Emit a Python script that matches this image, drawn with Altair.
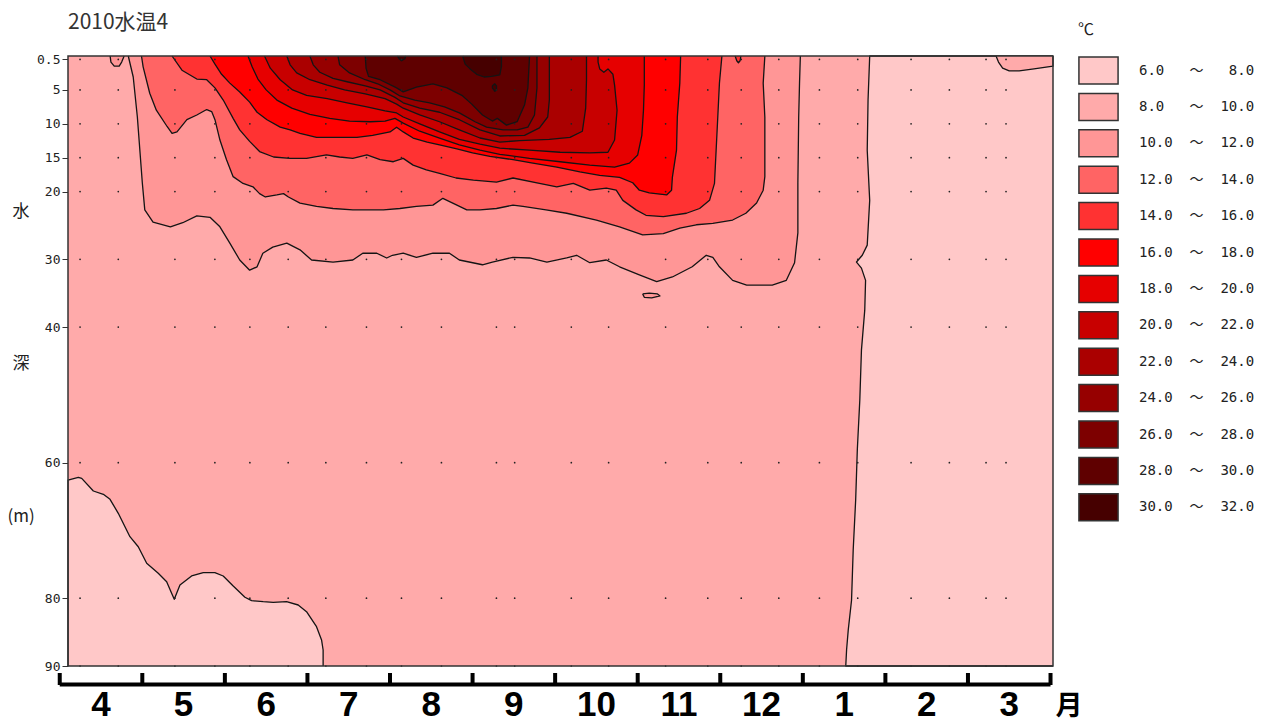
import altair as alt
import pandas as pd

# ---------------- texts ----------------
TITLE = "2010水温4"
MONTH_LABELS = ["4", "5", "6", "7", "8", "9", "10", "11", "12", "1", "2", "3"]
MONTH_UNIT = "月"
DEPTH_TICKS = [0.5, 5, 10, 15, 20, 30, 40, 60, 80, 90]
DEPTH_TITLE = ["水", "深", "(m)"]
LEGEND_TITLE = "℃"

# ---------------- temperature classes ----------------
BAND_LOW = [6.0, 8.0, 10.0, 12.0, 14.0, 16.0, 18.0, 20.0, 22.0, 24.0, 26.0, 28.0, 30.0]
BAND_HIGH = [8.0, 10.0, 12.0, 14.0, 16.0, 18.0, 20.0, 22.0, 24.0, 26.0, 28.0, 30.0, 32.0]
BAND_COLORS = ["#FFC8C8", "#FFAAAA", "#FF9696", "#FF6464", "#FF3232", "#FF0000", "#E60000",
               "#C80000", "#AA0000", "#960000", "#7D0000", "#5F0000", "#460000"]

# observation dates (months after 1 April) and depths of the sample grid
OBS_MONTHS = [0.246, 0.709, 1.395, 1.879, 2.303, 2.767, 3.223, 3.715, 4.139, 4.623, 5.289, 5.510,
              6.196, 6.648, 7.338, 7.849, 8.254, 8.709, 9.201, 9.665, 10.311, 10.775, 11.219, 11.461]

X_DOMAIN = [0.1, 12.03]   # months after 1 April
Y_DOMAIN = [0, 90]        # depth (m)

# ---------------- isotherms (month, depth) ----------------
ISO8L_M = [0.10, 0.225, 0.266, 0.407, 0.528, 0.609, 0.709, 0.850, 0.951, 1.053, 1.193, 1.295, 1.355, 1.387,
           1.416, 1.456, 1.597, 1.738, 1.879, 1.980, 2.101, 2.243, 2.324, 2.464, 2.585, 2.747, 2.888, 2.989,
           3.110, 3.171, 3.190, 3.190]
ISO8L_D = [62.56, 62.16, 62.31, 64.18, 64.67, 65.41, 67.47, 70.92, 72.40, 74.85, 76.32, 77.56, 79.27, 80.16,
           79.27, 78.05, 76.72, 76.23, 76.23, 76.72, 78.20, 79.86, 80.36, 80.51, 80.60, 80.51, 81.00, 81.99,
           84.20, 86.16, 87.64, 90.0]

ISO8R_M = [9.81, 9.79, 9.78, 9.81, 9.78, 9.72, 9.65, 9.71, 9.76, 9.75, 9.71, 9.69, 9.66, 9.64, 9.61, 9.59,
           9.55, 9.53, 9.52]
ISO8R_D = [0, 6.5, 13.9, 21.3, 27.9, 29.4, 30.4, 31.3, 33.1, 37.5, 43.4, 50.8, 58.1, 65.5, 72.9, 80.3,
           84.7, 87.6, 90]

ISO8MAR_M = [11.34, 11.37, 11.42, 11.50, 11.62, 11.80, 12.03, 12.03]
ISO8MAR_D = [0, 0.9, 1.8, 2.2, 2.2, 1.9, 1.5, 0]

ISO10_M = [0.83, 0.89, 0.94, 1.00, 1.03, 1.13, 1.34, 1.49, 1.66, 1.82, 1.94, 2.06, 2.18, 2.30, 2.39, 2.46,
           2.58, 2.75, 2.91, 3.05, 3.31, 3.55, 3.67, 3.84, 3.96, 4.03, 4.16, 4.32, 4.52, 4.72, 4.84, 5.12,
           5.24, 5.49, 5.69, 5.90, 6.14, 6.26, 6.42, 6.62, 6.78, 7.02, 7.23, 7.42, 7.66, 7.83, 7.91, 7.99,
           8.15, 8.32, 8.63, 8.80, 8.90, 8.94, 8.94, 8.95, 8.96, 8.97]
ISO10_D = [0, 3.1, 9.0, 18.7, 22.7, 24.5, 25.2, 24.6, 23.6, 23.8, 25.2, 27.6, 30.1, 31.6, 31.1, 29.1,
           28.2, 27.6, 28.6, 30.1, 30.4, 30.1, 29.1, 29.1, 29.8, 29.4, 29.1, 29.7, 29.1, 29.1, 30.1, 30.8,
           30.4, 29.7, 29.8, 30.4, 29.8, 29.4, 30.5, 30.1, 31.1, 32.3, 33.3, 32.6, 31.1, 29.4, 29.7, 31.1,
           33.1, 33.8, 33.8, 33.1, 30.5, 26.1, 18.7, 9.0, 4.0, 0]
ISO10A_M = [0.61, 0.62, 0.66, 0.72, 0.75, 0.78]
ISO10A_D = [0, 0.9, 1.5, 1.5, 0.9, 0]
ISO10B_M = [7.06, 7.14, 7.24, 7.27, 7.17, 7.08, 7.06]
ISO10B_D = [35.1, 35.0, 35.1, 35.4, 35.7, 35.6, 35.1]

ISO12_M = [0.99, 1.01, 1.09, 1.17, 1.30, 1.36, 1.42, 1.54, 1.66, 1.78, 1.84, 1.88, 1.94, 2.02, 2.10, 2.22,
           2.34, 2.42, 2.49, 2.63, 2.71, 2.77, 2.91, 3.11, 3.31, 3.55, 3.92, 4.12, 4.32, 4.52, 4.64, 4.76,
           4.93, 5.09, 5.29, 5.49, 5.61, 5.89, 6.14, 6.50, 6.78, 7.06, 7.31, 7.51, 7.71, 7.91, 8.15, 8.31,
           8.44, 8.52, 8.54, 8.54, 8.52, 8.54]
ISO12_D = [0, 1.6, 5.5, 8.0, 10.4, 11.4, 11.2, 9.4, 8.7, 7.9, 8.2, 9.4, 12.4, 15.3, 17.8, 18.8,
           19.3, 20.3, 20.8, 20.5, 20.3, 20.8, 21.7, 22.2, 22.5, 22.7, 22.7, 22.5, 22.2, 22.0, 21.0, 21.7,
           22.7, 22.7, 22.5, 22.0, 22.2, 22.7, 23.2, 24.2, 25.2, 26.4, 26.2, 25.4, 24.9, 24.7, 24.2, 23.2,
           21.7, 19.8, 17.8, 9.0, 4.0, 0]

ISO14_M = [1.36, 1.48, 1.66, 1.78, 1.88, 1.98, 2.10, 2.18, 2.30, 2.42, 2.59, 2.79, 2.99, 3.23, 3.39, 3.55,
           3.72, 3.88, 4.04, 4.16, 4.28, 4.44, 4.60, 4.80, 5.01, 5.29, 5.49, 5.81, 6.02, 6.22, 6.42, 6.62,
           6.74, 6.82, 6.98, 7.10, 7.31, 7.59, 7.75, 7.87, 7.93, 7.95, 7.97, 7.99, 8.02]
ISO14_D = [0, 2.1, 3.4, 3.5, 4.7, 6.5, 9.2, 10.9, 12.6, 14.1, 14.9, 15.1, 15.1, 14.6, 14.9, 15.1,
           14.6, 15.3, 15.6, 15.1, 16.1, 16.8, 17.3, 18.0, 18.3, 18.6, 18.0, 18.8, 19.3, 18.8, 19.8, 19.5,
           19.8, 21.3, 22.7, 23.5, 23.7, 23.2, 22.5, 21.3, 18.8, 13.9, 9.0, 4.0, 0]
ISO14A_M = [8.18, 8.20, 8.22, 8.24, 8.25]
ISO14A_D = [0, 0.7, 1.0, 0.7, 0]

ISO16_M = [1.82, 1.88, 1.96, 2.06, 2.18, 2.30, 2.39, 2.51, 2.67, 2.79, 2.91, 3.11, 3.39, 3.60, 3.79, 4.00,
           4.08, 4.16, 4.28, 4.45, 4.60, 4.81, 5.00, 5.21, 5.49, 5.73, 6.02, 6.30, 6.54, 6.78, 6.94, 7.02,
           7.14, 7.35, 7.41, 7.42, 7.47, 7.48, 7.51, 7.52]
ISO16_D = [0, 1.2, 2.7, 4.0, 5.3, 6.8, 8.3, 9.4, 10.5, 10.9, 11.4, 12.0, 12.0, 12.0, 11.7, 11.2,
           10.5, 11.2, 12.1, 12.7, 13.1, 13.7, 14.3, 14.8, 15.3, 15.8, 16.4, 17.1, 17.6, 17.9, 18.7, 19.8,
           20.2, 20.5, 19.8, 17.9, 13.9, 9.0, 4.0, 0]

ISO18_M = [2.28, 2.33, 2.40, 2.50, 2.63, 2.81, 3.03, 3.27, 3.51, 3.76, 3.94, 4.06, 4.16, 4.36, 4.60, 4.84,
           5.09, 5.33, 5.69, 6.06, 6.42, 6.72, 6.90, 7.00, 7.05, 7.07, 7.08, 7.08]
ISO18_D = [0, 1.6, 3.4, 5.0, 6.5, 7.7, 8.6, 9.2, 9.6, 9.7, 9.6, 9.2, 9.9, 11.1, 12.1, 13.1,
           13.9, 14.5, 15.1, 15.6, 16.1, 16.4, 15.8, 14.6, 11.7, 8.0, 4.3, 0]

ISO20_M = [2.48, 2.55, 2.67, 2.82, 2.99, 3.24, 3.48, 3.72, 3.94, 4.08, 4.16, 4.36, 4.60, 4.84, 5.09, 5.33,
           5.69, 6.06, 6.42, 6.64, 6.72, 6.75, 6.72, 6.70, 6.64, 6.59, 6.54, 6.52, 6.52]
ISO20_D = [0, 1.8, 3.5, 5.0, 5.8, 6.3, 6.9, 7.5, 8.1, 8.4, 9.0, 10.0, 11.2, 12.3, 13.0, 13.6,
           13.9, 14.2, 14.3, 14.2, 12.4, 8.0, 4.3, 2.7, 1.9, 2.4, 1.9, 0.9, 0]

ISO22_M = [2.75, 2.79, 2.87, 3.03, 3.24, 3.45, 3.70, 3.94, 4.08, 4.16, 4.36, 4.60, 4.84, 5.09, 5.33, 5.57,
           5.93, 6.18, 6.33, 6.37, 6.38, 6.38]
ISO22_D = [0, 1.3, 2.5, 3.5, 4.3, 5.0, 5.6, 6.3, 7.1, 7.7, 8.7, 9.7, 10.9, 12.1, 12.7, 12.5,
           12.3, 12.0, 11.1, 7.7, 3.5, 0]

ISO24_M = [3.03, 3.07, 3.15, 3.31, 3.48, 3.70, 3.88, 4.06, 4.16, 4.36, 4.60, 4.84, 5.09, 5.33, 5.63, 5.81,
           5.91, 5.93, 5.93]
ISO24_D = [0, 1.3, 2.4, 3.3, 3.8, 4.4, 5.0, 6.1, 6.9, 7.7, 8.3, 9.4, 10.9, 11.8, 11.7, 10.6,
           9.0, 6.5, 0]

ISO26_M = [3.37, 3.39, 3.51, 3.70, 3.85, 4.00, 4.12, 4.30, 4.48, 4.66, 4.84, 5.03, 5.17, 5.37, 5.54, 5.67,
           5.75, 5.78, 5.78]
ISO26_D = [0, 1.3, 2.5, 3.5, 4.1, 5.0, 5.9, 6.5, 6.9, 7.5, 8.4, 9.7, 10.5, 10.9, 10.9, 10.5,
           8.7, 4.7, 0]

ISO28_M = [3.70, 3.71, 3.74, 3.88, 4.08, 4.16, 4.32, 4.52, 4.69, 4.87, 4.99, 5.12, 5.24, 5.30, 5.41, 5.54,
           5.63, 5.67, 5.69]
ISO28_D = [0, 1.8, 3.0, 3.5, 4.7, 5.3, 4.6, 4.1, 4.7, 5.8, 7.1, 8.7, 9.6, 9.2, 10.2, 9.7,
           7.2, 4.7, 0]

ISO30_M = [4.88, 4.91, 4.97, 5.05, 5.14, 5.23, 5.33, 5.35, 5.35]
ISO30_D = [0, 1.2, 1.9, 2.7, 3.1, 3.0, 2.8, 1.5, 0]
ISO30A_M = [4.09, 4.11, 4.14, 4.18, 4.19]
ISO30A_D = [0, 0.4, 0.7, 0.4, 0]
ISO30B_M = [5.24, 5.27, 5.29, 5.29, 5.27, 5.24, 5.24]
ISO30B_D = [4.4, 4.1, 4.4, 5.0, 5.2, 4.7, 4.4]

# regions: (name, class index, months, depths) -- drawn in this order
XL, XR = X_DOMAIN
YT, YB = Y_DOMAIN
REGIONS = [
    ("cold_left", 0, [XL] + ISO8L_M, [YB] + ISO8L_D),
    ("cold_right", 0, [XR] + ISO8R_M + [XR], [YT] + ISO8R_D + [YB]),
    ("march", 1, ISO8MAR_M, ISO8MAR_D),
    ("iso10", 2, ISO10_M, ISO10_D),
    ("iso10a", 2, ISO10A_M, ISO10A_D),
    ("iso10b", 2, ISO10B_M, ISO10B_D),
    ("iso12", 3, ISO12_M, ISO12_D),
    ("iso14", 4, ISO14_M, ISO14_D),
    ("iso14a", 4, ISO14A_M, ISO14A_D),
    ("iso16", 5, ISO16_M, ISO16_D),
    ("iso18", 6, ISO18_M, ISO18_D),
    ("iso20", 7, ISO20_M, ISO20_D),
    ("iso22", 8, ISO22_M, ISO22_D),
    ("iso24", 9, ISO24_M, ISO24_D),
    ("iso26", 10, ISO26_M, ISO26_D),
    ("iso28", 11, ISO28_M, ISO28_D),
    ("iso30", 12, ISO30_M, ISO30_D),
    ("iso30a", 12, ISO30A_M, ISO30A_D),
    ("iso30b", 12, ISO30B_M, ISO30B_D),
]

rows = []
for name, band, ms, ds in REGIONS:
    assert len(ms) == len(ds), name
    for i, (m, d) in enumerate(zip(ms, ds)):
        rows.append({"poly": name, "i": i, "month": m, "depth": d})
region_df = pd.DataFrame(rows)

dots_df = pd.DataFrame([{"month": m, "depth": d} for m in OBS_MONTHS for d in DEPTH_TICKS])

NB = "\u00a0"
LEGEND_LABELS = [f"{lo:<4.1f}  ～  {hi:>4.1f}".replace(" ", NB) for lo, hi in zip(BAND_LOW, BAND_HIGH)]

# ---------------- scales / encodings ----------------
W, H = 985, 610
XS = alt.Scale(domain=X_DOMAIN, nice=False, zero=False)
YS = alt.Scale(domain=Y_DOMAIN, reverse=True, nice=False, zero=False)
Y_AXIS = alt.Axis(values=DEPTH_TICKS, title=None, grid=False, domain=False,
                  labelExpr="datum.value < 1 ? format(datum.value, '.1f') : format(datum.value, 'd')",
                  tickSize=6, tickColor="#333", tickWidth=1, labelFont="DejaVu Sans Mono",
                  labelFontSize=13, labelColor="#222", labelPadding=2, labelOverlap=False,
                  labelFlush=False)


def X(field):
    return alt.X(f"{field}:Q", scale=XS, axis=None)


def Y(field):
    return alt.Y(f"{field}:Q", scale=YS, axis=Y_AXIS)


frame_df = pd.DataFrame({"x0": [XL], "x1": [XR], "y0": [YT], "y1": [YB]})

layers = [
    # plot background (8-10 class covers the rest of the section)
    alt.Chart(frame_df).mark_rect(fill=BAND_COLORS[1], strokeWidth=0)
    .encode(x=X("x0"), x2="x1:Q", y=Y("y0"), y2="y1:Q")
]
for name, band, ms, ds in REGIONS:
    layers.append(
        alt.Chart(region_df)
        .transform_filter(alt.datum.poly == name)
        .mark_line(fill=BAND_COLORS[band], stroke="#141414", strokeWidth=1.3, strokeJoin="round")
        .encode(x=X("month"), y=Y("depth"), order=alt.Order("i:Q"))
    )

# sample grid dots
layers.append(
    alt.Chart(dots_df).mark_circle(size=3, color="#222", opacity=1).encode(x=X("month"), y=Y("depth"))
)

# frame on top
layers.append(
    alt.Chart(frame_df).mark_rect(fillOpacity=0, stroke="#333", strokeWidth=1.5)
    .encode(x=X("x0"), x2="x1:Q", y=Y("y0"), y2="y1:Q")
)

# month axis (bottom)
bounds_df = pd.DataFrame({"b": list(range(len(MONTH_LABELS) + 1))})
layers.append(
    alt.Chart(pd.DataFrame({"a": [0], "e": [len(MONTH_LABELS)]}))
    .mark_rule(color="black", strokeWidth=4)
    .encode(x=X("a"), x2="e:Q", y=alt.value(628.5))
)
layers.append(
    alt.Chart(bounds_df).mark_rule(color="black", strokeWidth=4)
    .encode(x=X("b"), y=alt.value(617), y2=alt.value(629))
)
month_df = pd.DataFrame({"pos": [i + 0.5 for i in range(len(MONTH_LABELS))], "lab": MONTH_LABELS})
layers.append(
    alt.Chart(month_df)
    .mark_text(font="Liberation Sans Narrow, Liberation Sans, Arial, sans-serif", fontSize=35,
               fontWeight="bold", align="center", baseline="bottom", color="black")
    .encode(x=X("pos"), y=alt.value(667), text="lab:N")
)
layers.append(
    alt.Chart(pd.DataFrame({"t": [MONTH_UNIT]}))
    .mark_text(font="Noto Sans CJK JP", fontSize=27, fontWeight="bold", align="center",
               baseline="middle", color="black")
    .encode(x=alt.value(1001), y=alt.value(651), text="t:N")
)

# chart title
layers.append(
    alt.Chart(pd.DataFrame({"t": [TITLE]}))
    .mark_text(font="Noto Sans CJK JP", fontSize=21, align="left", baseline="alphabetic", color="#333")
    .encode(x=alt.value(0), y=alt.value(-27), text="t:N")
)

# vertical axis title, one piece at a time
for txt, ypix in zip(DEPTH_TITLE, [156, 308, 461]):
    layers.append(
        alt.Chart(pd.DataFrame({"t": [txt]}))
        .mark_text(font="Noto Sans CJK JP", fontSize=17, align="center", baseline="middle", color="#222")
        .encode(x=alt.value(-47), y=alt.value(ypix), text="t:N")
    )

# legend title
layers.append(
    alt.Chart(pd.DataFrame({"t": [LEGEND_TITLE]}))
    .mark_text(font="Noto Sans CJK JP", fontSize=16, align="left", baseline="middle", color="#222")
    .encode(x=alt.value(1010), y=alt.value(-26), text="t:N")
)

# legend (driven by the class arrays)
legend_df = pd.DataFrame({"band": LEGEND_LABELS})
layers.append(
    alt.Chart(legend_df).transform_filter("false").mark_square(opacity=1)
    .encode(fill=alt.Fill("band:N", scale=alt.Scale(domain=LEGEND_LABELS, range=BAND_COLORS),
                          legend=alt.Legend(orient="none", legendX=1016, legendY=0, title=None,
                                            symbolType="M-1.45,-1L1.45,-1L1.45,1L-1.45,1Z", symbolSize=729,
                                            symbolStrokeColor="#333", symbolStrokeWidth=1.5,
                                            symbolOpacity=1,
                                            labelFont="DejaVu Sans Mono, Noto Sans CJK JP",
                                            labelFontSize=14, labelColor="#222", labelOffset=26,
                                            rowPadding=3.4, labelLimit=300)))
)

chart = (
    alt.layer(*layers)
    .properties(width=W, height=H, autosize=alt.AutoSizeParams(type="none"),
                padding={"left": 68, "top": 56, "right": 210, "bottom": 59})
    .configure_view(stroke=None)
)

chart.save("out.html", embed_options={"renderer": "svg", "actions": False})
